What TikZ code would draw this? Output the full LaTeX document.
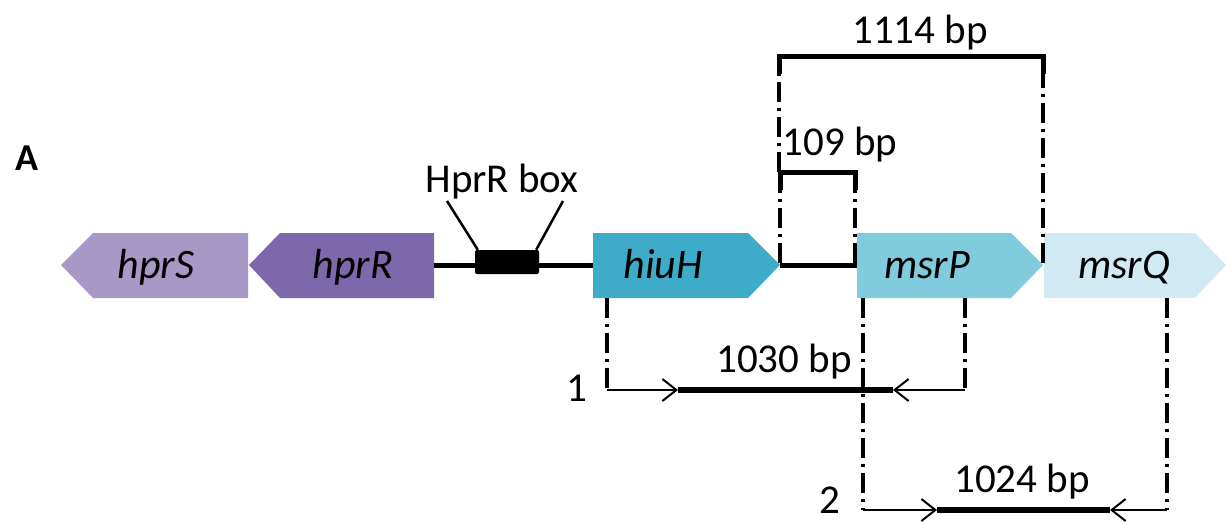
\documentclass[tikz,border=0pt]{standalone}
\usepackage{fontspec}
\setmainfont{Carlito}
\usetikzlibrary{arrows.meta}
\definecolor{cS}{HTML}{A898C6}
\definecolor{cR}{HTML}{7E68AC}
\definecolor{cH}{HTML}{3EACC8}
\definecolor{cP}{HTML}{80CCDC}
\definecolor{cQ}{HTML}{D0E9F2}
\begin{document}
\begin{tikzpicture}[x=1pt,y=-1pt,
  lbl/.style={font=\fontsize{41}{41}\selectfont, anchor=base, inner sep=0pt},
  genelbl/.style={font=\fontsize{42}{42}\selectfont\itshape, anchor=base, inner sep=0pt},
  dd/.style={line width=4.5pt, dash pattern=on 20pt off 6pt on 3pt off 6pt},
  bar/.style={line width=5pt},
  thickbar/.style={line width=6.5pt},
  thinln/.style={line width=2pt},
  tipped/.style={thinln, -{Straight Barb[length=14pt,width=22pt,line width=2pt]}},
]
\useasboundingbox (0,0) rectangle (1227,522);

% genes
\fill[cS] (61,265) -- (93,233) -- (248,233) -- (248,298) -- (93,298) -- cycle;
\fill[cR] (249,265) -- (280,233) -- (434,233) -- (434,298) -- (280,298) -- cycle;
\fill[cH] (593,233) -- (748,233) -- (780,265) -- (748,298) -- (593,298) -- cycle;
\fill[cP] (857,233) -- (1011,233) -- (1043,265) -- (1011,298) -- (857,298) -- cycle;
\fill[cQ] (1044,233) -- (1195,233) -- (1226,265) -- (1195,298) -- (1044,298) -- cycle;

\node[genelbl] (hprS) at (156,278) {hprS};
\node[genelbl] (hprR) at (353,278) {hprR};
\node[genelbl] (hiuH) at (663,278) {hiuH};
\node[genelbl] (msrP) at (927,278) {msrP};
\node[genelbl] (msrQ) at (1124,278) {msrQ};

\node[font=\fontsize{38}{38}\selectfont\bfseries, anchor=base, inner sep=0pt] (A) at (27,170) {A};

% backbone and HprR box
\coordinate (rEnd) at (434,265);
\coordinate (hStart) at (593,265);
\coordinate (hTip) at (780,265);
\coordinate (pStart) at (857,265);
\draw[bar] (rEnd) -- (hStart);
\draw[bar] (hTip) -- (pStart);
\node[fill=black, rounded corners=2pt, minimum width=64pt, minimum height=24pt, inner sep=0pt] (box) at (507,262) {};
\node[lbl] (boxlbl) at (502,192) {HprR box};
\coordinate (bl) at (447,201);
\coordinate (br) at (563,201);
\draw[line width=2.5pt] (box.north west) ++(3,0) -- (bl);
\draw[line width=2.5pt] (box.north east) ++(-3,0) -- (br);

% 109 bp bracket
\coordinate (a1) at (780,263);
\coordinate (a2) at (780,172);
\coordinate (a3) at (855,172);
\coordinate (a4) at (855,263);
\draw[dd] (a1) -- (a2);
\draw[dd] (a4) -- (a3);
\draw[bar, line join=miter] (780,190) -- (a2) -- (a3) -- (855,190);
\node[lbl] (l109) at (840,155) {109 bp};

% 1114 bp bracket
\coordinate (b1) at (779,172);
\coordinate (b2) at (779,56);
\coordinate (b3) at (1043,56);
\coordinate (b4) at (1043,263);
\draw[dd] (b1) -- (b2);
\draw[dd] (b4) -- (b3);
\draw[bar, line join=miter] (779,74) -- (b2) -- (b3) -- (1043,74);
\node[lbl] (l1114) at (920,43) {1114 bp};

% product 1
\coordinate (c1) at (607,298);
\coordinate (c2) at (607,390);
\coordinate (c3) at (678,390);
\coordinate (c4) at (893,390);
\coordinate (c5) at (965,390);
\coordinate (c6) at (965,298);
\draw[dd] (c1) -- (c2);
\draw[dd] (c6) -- (c5);
\draw[thickbar] (c3) -- (c4);
\draw[tipped] (c2) -- (c3);
\draw[tipped] (c5) -- (c4);
\node[lbl] (l1030) at (784,372) {1030 bp};
\node[lbl] (n1) at (577,401) {1};

% product 2
\coordinate (d1) at (863,298);
\coordinate (d2) at (863,510);
\coordinate (d3) at (937,510);
\coordinate (d4) at (1110,510);
\coordinate (d5) at (1167,510);
\coordinate (d6) at (1167,298);
\draw[dd] (d1) -- (d2);
\draw[dd] (d6) -- (d5);
\draw[thickbar] (d3) -- (d4);
\draw[tipped] (d2) -- (d3);
\draw[tipped] (d5) -- (d4);
\node[lbl] (l1024) at (1022,492) {1024 bp};
\node[lbl] (n2) at (830,513) {2};
\end{tikzpicture}
\end{document}
